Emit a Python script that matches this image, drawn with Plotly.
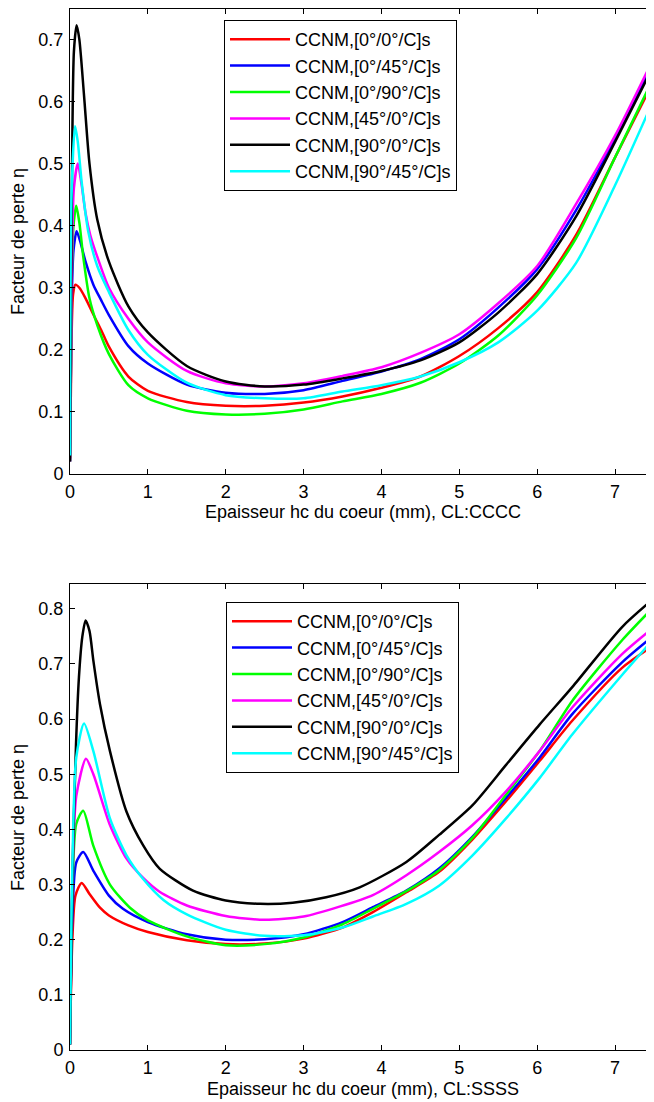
import plotly.graph_objects as go

names = ["CCNM,[0°/0°/C]s", "CCNM,[0°/45°/C]s", "CCNM,[0°/90°/C]s",
         "CCNM,[45°/0°/C]s", "CCNM,[90°/0°/C]s", "CCNM,[90°/45°/C]s"]
colors = ["#ff0000", "#0000ff", "#00ff00", "#ff00ff", "#000000", "#00ffff"]

# ---- Top panel (CL:CCCC) ----
top_red_x = [0, 0.02, 0.04, 0.07, 0.12, 0.2, 0.3, 0.4, 0.5, 0.75, 1.0, 1.5, 2.0, 2.5, 3.0, 3.5, 4.0, 4.5, 5.0, 5.5, 6.0, 6.5, 7.0, 7.5]
top_red_y = [0.025, 0.22, 0.29, 0.305, 0.3, 0.283, 0.257, 0.232, 0.205, 0.157, 0.134, 0.116, 0.11, 0.11, 0.115, 0.125, 0.139, 0.157, 0.19, 0.235, 0.293, 0.385, 0.51, 0.634]

top_blue_x = [0, 0.02, 0.045, 0.085, 0.13, 0.2, 0.3, 0.4, 0.5, 0.75, 1.0, 1.5, 2.0, 2.5, 3.0, 3.5, 4.0, 4.5, 5.0, 5.5, 6.0, 6.5, 7.0, 7.5]
top_blue_y = [0.02, 0.27, 0.36, 0.391, 0.375, 0.342, 0.305, 0.28, 0.256, 0.206, 0.178, 0.144, 0.131, 0.129, 0.135, 0.15, 0.165, 0.185, 0.217, 0.268, 0.33, 0.425, 0.54, 0.664]

top_green_x = [0, 0.02, 0.045, 0.08, 0.12, 0.17, 0.25, 0.35, 0.5, 0.75, 1.0, 1.5, 2.0, 2.5, 3.0, 3.5, 4.0, 4.5, 5.0, 5.5, 6.0, 6.5, 7.0, 7.5]
top_green_y = [0.02, 0.3, 0.4, 0.432, 0.405, 0.35, 0.283, 0.24, 0.193, 0.143, 0.122, 0.102, 0.096, 0.097, 0.104, 0.117, 0.129, 0.147, 0.178, 0.223, 0.288, 0.38, 0.51, 0.64]

top_mag_x = [0, 0.02, 0.05, 0.1, 0.15, 0.2, 0.26, 0.35, 0.5, 0.75, 1.0, 1.5, 2.0, 2.5, 3.0, 3.5, 4.0, 4.5, 5.0, 5.5, 6.0, 6.5, 7.0, 7.5]
top_mag_y = [0.02, 0.3, 0.46, 0.5, 0.465, 0.42, 0.385, 0.35, 0.3, 0.25, 0.212, 0.166, 0.146, 0.141, 0.146, 0.158, 0.172, 0.195, 0.225, 0.275, 0.335, 0.435, 0.545, 0.671]

top_blk_x = [0, 0.02, 0.05, 0.085, 0.12, 0.18, 0.25, 0.35, 0.5, 0.75, 1.0, 1.5, 2.0, 2.5, 3.0, 3.5, 4.0, 4.5, 5.0, 5.5, 6.0, 6.5, 7.0, 7.5]
top_blk_y = [0.02, 0.4, 0.68, 0.723, 0.7, 0.61, 0.5, 0.41, 0.342, 0.27, 0.228, 0.174, 0.149, 0.141, 0.144, 0.154, 0.166, 0.183, 0.212, 0.26, 0.322, 0.415, 0.535, 0.659]

top_cyan_x = [0, 0.02, 0.065, 0.1, 0.15, 0.235, 0.35, 0.5, 0.75, 1.0, 1.5, 2.0, 2.5, 3.0, 3.5, 4.0, 4.5, 5.0, 5.5, 6.0, 6.5, 7.0, 7.5]
top_cyan_y = [0.03, 0.45, 0.56, 0.535, 0.47, 0.39, 0.335, 0.293, 0.232, 0.192, 0.147, 0.127, 0.122, 0.122, 0.133, 0.143, 0.157, 0.18, 0.212, 0.263, 0.34, 0.465, 0.604]

# ---- Bottom panel (CL:SSSS) ----
bot_red_x = [0, 0.03, 0.07, 0.15, 0.25, 0.385, 0.5, 0.75, 1.0, 1.5, 2.0, 2.5, 3.0, 3.5, 3.89, 4.32, 4.74, 5.17, 5.6, 6.03, 6.45, 7.09, 7.5]
bot_red_y = [0.01, 0.2, 0.28, 0.303, 0.283, 0.258, 0.244, 0.226, 0.214, 0.199, 0.192, 0.193, 0.202, 0.222, 0.25, 0.286, 0.323, 0.382, 0.451, 0.524, 0.597, 0.693, 0.734]

bot_blue_x = [0, 0.03, 0.08, 0.17, 0.3, 0.5, 0.68, 1.0, 1.5, 2.0, 2.5, 3.0, 3.5, 3.89, 4.32, 4.74, 5.17, 5.6, 6.03, 6.45, 7.09, 7.5]
bot_blue_y = [0.01, 0.24, 0.34, 0.359, 0.325, 0.28, 0.256, 0.232, 0.21, 0.2, 0.201, 0.21, 0.232, 0.259, 0.289, 0.329, 0.387, 0.457, 0.53, 0.609, 0.703, 0.752]

bot_green_x = [0, 0.03, 0.08, 0.17, 0.3, 0.513, 0.77, 1.0, 1.5, 2.0, 2.5, 3.0, 3.5, 3.89, 4.32, 4.74, 5.17, 5.6, 6.03, 6.45, 7.09, 7.5]
bot_green_y = [0.01, 0.28, 0.41, 0.434, 0.37, 0.3, 0.258, 0.235, 0.206, 0.19, 0.192, 0.204, 0.228, 0.256, 0.288, 0.326, 0.385, 0.463, 0.542, 0.633, 0.743, 0.804]

bot_mag_x = [0, 0.03, 0.08, 0.205, 0.3, 0.513, 0.726, 0.94, 1.15, 1.5, 2.0, 2.5, 3.0, 3.46, 3.89, 4.32, 4.74, 5.17, 5.6, 6.03, 6.45, 7.09, 7.5]
bot_mag_y = [0.01, 0.3, 0.46, 0.528, 0.5, 0.408, 0.347, 0.312, 0.287, 0.262, 0.243, 0.236, 0.242, 0.26, 0.281, 0.317, 0.359, 0.408, 0.469, 0.542, 0.621, 0.718, 0.767]

bot_blk_x = [0, 0.03, 0.077, 0.115, 0.158, 0.2, 0.25, 0.3, 0.385, 0.513, 0.726, 0.94, 1.15, 1.58, 2.0, 2.44, 2.86, 3.29, 3.72, 4.32, 4.74, 5.17, 5.6, 6.03, 6.45, 7.09, 7.5]
bot_blk_y = [0.01, 0.31, 0.554, 0.676, 0.749, 0.779, 0.76, 0.706, 0.627, 0.542, 0.432, 0.371, 0.329, 0.289, 0.271, 0.265, 0.267, 0.277, 0.295, 0.341, 0.39, 0.444, 0.517, 0.59, 0.658, 0.767, 0.819]

bot_cyan_x = [0, 0.03, 0.08, 0.18, 0.3, 0.513, 0.726, 0.94, 1.2, 1.5, 2.0, 2.5, 3.0, 3.5, 3.89, 4.32, 4.74, 5.17, 5.6, 6.03, 6.45, 7.09, 7.5]
bot_cyan_y = [0.01, 0.33, 0.53, 0.592, 0.542, 0.42, 0.353, 0.31, 0.272, 0.246, 0.218, 0.207, 0.208, 0.222, 0.242, 0.265, 0.298, 0.353, 0.42, 0.493, 0.572, 0.68, 0.746]

x_ticks = [0, 1, 2, 3, 4, 5, 6, 7]
top_y_ticks = [0, 0.1, 0.2, 0.3, 0.4, 0.5, 0.6, 0.7]
bot_y_ticks = [0, 0.1, 0.2, 0.3, 0.4, 0.5, 0.6, 0.7, 0.8]
top_xlabel = "Epaisseur hc du coeur (mm), CL:CCCC"
bot_xlabel = "Epaisseur hc du coeur (mm), CL:SSSS"
ylabel = "Facteur de perte η"

top_series = [(top_red_x, top_red_y), (top_blue_x, top_blue_y), (top_green_x, top_green_y),
              (top_mag_x, top_mag_y), (top_blk_x, top_blk_y), (top_cyan_x, top_cyan_y)]
bot_series = [(bot_red_x, bot_red_y), (bot_blue_x, bot_blue_y), (bot_green_x, bot_green_y),
              (bot_mag_x, bot_mag_y), (bot_blk_x, bot_blk_y), (bot_cyan_x, bot_cyan_y)]

FONT = "Liberation Sans, Arial, Helvetica, sans-serif"
fig = go.Figure()
for i, (xs, ys) in enumerate(top_series):
    fig.add_trace(go.Scatter(x=xs, y=ys, mode="lines", name=names[i],
                             line=dict(color=colors[i], width=2.5, shape="spline", smoothing=0.7),
                             xaxis="x", yaxis="y", legend="legend"))
for i, (xs, ys) in enumerate(bot_series):
    fig.add_trace(go.Scatter(x=xs, y=ys, mode="lines", name=names[i],
                             line=dict(color=colors[i], width=2.5, shape="spline", smoothing=0.7),
                             xaxis="x2", yaxis="y2", legend="legend2"))

# The page body has an 8px margin; positions below are in window pixels.
OFF = 8
W, H = 654 - OFF, 1102 - OFF
L, R, T = 70 - OFF, 0, 9 - OFF
B = H - (1050 - OFF)
ph = H - T - B
pw = W - L - R
def yf(px):
    return (H - B - (px - OFF)) / ph
def xf(px):
    return ((px - OFF) - L) / pw

axis_common = dict(showline=True, linecolor="black", linewidth=1, ticks="inside",
                   ticklen=5, tickcolor="black", showgrid=False, zeroline=False,
                   automargin=False,
                   tickfont=dict(family=FONT, size=18, color="black"))

fig.update_layout(
    width=W, height=H, margin=dict(l=L, r=R, t=T, b=B, autoexpand=False),
    paper_bgcolor="white", plot_bgcolor="white",
    font=dict(family=FONT, size=18, color="black"),
    xaxis=dict(domain=[0, 1], range=[0, 7.5], tickvals=x_ticks, anchor="y", mirror="ticks",
               ticklabelstandoff=1, **axis_common),
    yaxis=dict(domain=[yf(474), 1], range=[0, 0.749], tickvals=top_y_ticks, anchor="x",
               ticklabelstandoff=2, **axis_common),
    xaxis2=dict(domain=[0, 1], range=[0, 7.5], tickvals=x_ticks, anchor="y2", mirror="ticks",
                ticklabelstandoff=1, **axis_common),
    yaxis2=dict(domain=[0, yf(584)], range=[0, 0.845], tickvals=bot_y_ticks, anchor="x2",
                ticklabelstandoff=2, **axis_common),
    legend=dict(x=xf(224), y=yf(20), xanchor="left", yanchor="top",
                bgcolor="white", bordercolor="black", borderwidth=1,
                font=dict(family=FONT, size=18, color="black"), itemwidth=60,
                tracegroupgap=0),
    legend2=dict(x=xf(226), y=yf(602), xanchor="left", yanchor="top",
                 bgcolor="white", bordercolor="black", borderwidth=1,
                 font=dict(family=FONT, size=18, color="black"), itemwidth=60,
                 tracegroupgap=0),
    showlegend=True,
    annotations=[
        dict(text=top_xlabel, xref="paper", yref="paper", x=xf(363), y=yf(512), showarrow=False,
             xanchor="center", yanchor="middle", font=dict(family=FONT, size=18)),
        dict(text=bot_xlabel, xref="paper", yref="paper", x=xf(363), y=yf(1089), showarrow=False,
             xanchor="center", yanchor="middle", font=dict(family=FONT, size=18)),
        dict(text=ylabel, xref="paper", yref="paper", x=xf(18), y=yf(242),
             showarrow=False, textangle=-90, xanchor="center", yanchor="middle",
             font=dict(family=FONT, size=18)),
        dict(text=ylabel, xref="paper", yref="paper", x=xf(18), y=yf(818),
             showarrow=False, textangle=-90, xanchor="center", yanchor="middle",
             font=dict(family=FONT, size=18)),
    ],
)

fig.write_html("out.html")
